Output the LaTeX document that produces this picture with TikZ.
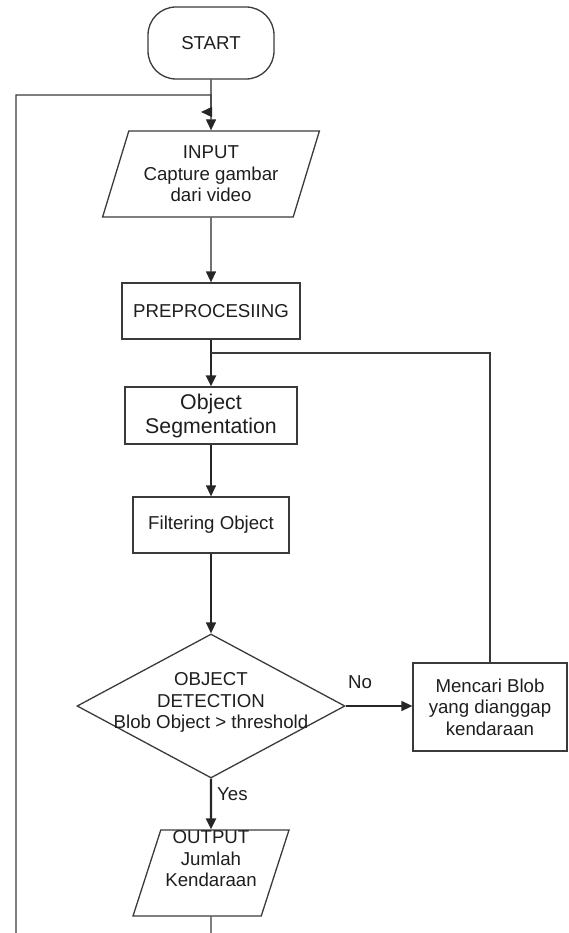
\documentclass[tikz,border=0pt]{standalone}
\usepackage{fontspec}
\setmainfont{Liberation Sans}
\usetikzlibrary{shapes.geometric,arrows.meta}
\definecolor{frame}{HTML}{3A3A3A}
\definecolor{txtc}{HTML}{1E1E1E}
\begin{document}
\begin{tikzpicture}[x=1pt,y=-1pt,
  base/.style={draw=frame, line width=1.3pt, text=txtc, align=center, inner sep=0pt,
               font=\fontsize{18.67}{21.5}\selectfont},
  term/.style={base, rectangle, rounded corners=28pt, minimum width=126pt, minimum height=72pt},
  procbox/.style={base, rectangle},
  para/.style={base, trapezium, trapezium stretches=true},
  decis/.style={base, diamond, minimum width=268pt, minimum height=144pt},
  txt/.style={align=center, inner sep=0pt, text=txtc, font=\fontsize{18.67}{21.5}\selectfont},
  conn/.style={draw=black!85, line width=1.3pt, -{Triangle[length=11pt,width=10pt]}},
  thick conn/.style={conn, line width=2.2pt},
  plain/.style={draw=frame, line width=1.3pt}
]
\useasboundingbox (0,0) rectangle (568,933);
\clip (0,0) rectangle (568,933);

\node[term] (start) at (211,43) {START};
\node[para, trapezium left angle=69, trapezium right angle=111,
      minimum width=217pt, minimum height=86pt] (inp) at (211,174)
      {INPUT\\Capture gambar\\dari video};
\node[procbox, minimum width=178pt, minimum height=56pt] (pre) at (211,311) {PREPROCESIING};
\node[procbox, minimum width=172pt, minimum height=57pt,
      font=\fontsize{21.33}{24}\selectfont] (seg) at (211,415.5) {Object\\Segmentation};
\node[procbox, minimum width=156pt, minimum height=56pt] (filt) at (211,525) {Filtering Object};
\node[decis] (det) at (211,706) {\phantom{X}};
\node[txt] (dett) at (211,702.5) {OBJECT\\DETECTION\\Blob Object > threshold};
\node[procbox, minimum width=154pt, minimum height=88pt] (mc) at (490,707)
      {Mencari Blob\\yang dianggap\\kendaraan};
\node[para, trapezium left angle=75, trapezium right angle=105,
      minimum width=156pt, minimum height=86pt] (out) at (211,873) {\phantom{X}};
\node[txt] (outt) at (211,859) {OUTPUT\\Jumlah\\Kendaraan};

\node[txt, anchor=base west] (no) at (348,688) {No};
\node[txt, anchor=base west] (yes) at (217,800) {Yes};

\coordinate (j) at (211,353);
\coordinate (lt) at (16,95);
\coordinate (lb) at (16,960);
\coordinate (ct) at (211,95);
\coordinate (cm) at (211,112);
\coordinate (ctip) at (202,112);
\coordinate (ob) at (211,960);

\draw[conn] (start.south) -- (inp.north);
\draw[plain] (out.south) -- (ob) -- (lb) -- (lt) -- (ct) -- (cm);
\draw[conn, shorten >=-1pt] (cm) -- (ctip);
\draw[conn] (inp.south) -- (pre.north);
\draw[thick conn] (pre.south) -- (seg.north);
\draw[plain] (mc.north) |- (j);
\draw[conn] (seg.south) -- (filt.north);
\draw[conn] (filt.south) -- (det.north);
\draw[conn] (det.east) -- (det.east -| mc.west);
\draw[thick conn] (det.south) -- (out.north);
\end{tikzpicture}
\end{document}
